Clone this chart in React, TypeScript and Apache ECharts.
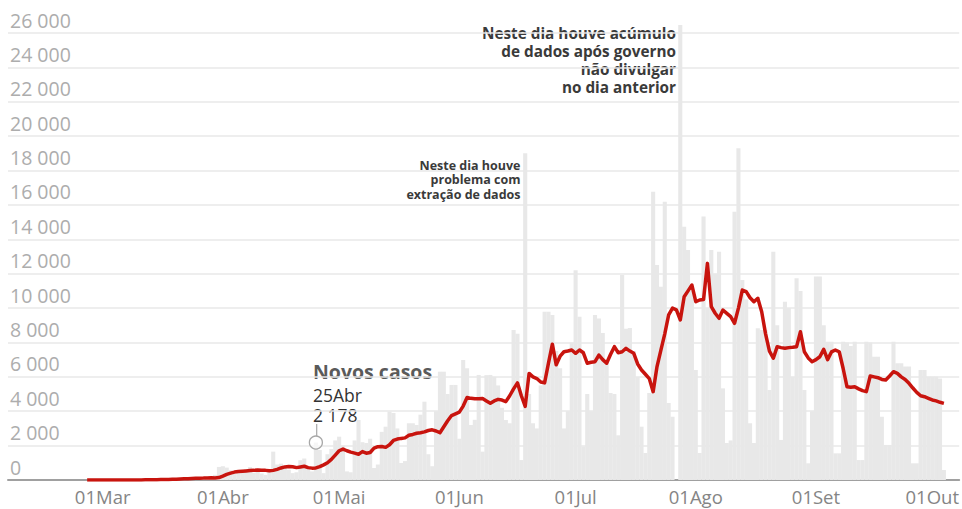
import React, { useEffect, useRef } from "react";
import * as echarts from "echarts";

// Day index 0 = 26 Feb 2020, last = 4 Oct 2020
const startDate = "2020-02-26";

const monthTickIdx = [4, 35, 65, 96, 126, 157, 188, 218];
const monthTickLabels = ["01Mar", "01Abr", "01Mai", "01Jun", "01Jul", "01Ago", "01Set", "01Out"];

// Daily new cases (grey bars)
const newCases = [
  1, 0, 0, 0, 0, 1, 0, 2, 3, 3,
  6, 3, 5, 9, 10, 12, 16, 20, 25, 34,
  40, 45, 50, 62, 55, 70, 86, 95, 105, 110,
  120, 140, 160, 300, 760,
  800, 720, 560, 350, 480,
  540, 620, 750, 420, 520, 380, 300,
  620, 1650, 900, 950, 700, 600, 400,
  450, 1150, 1250, 650, 500, 2178,
  1745, 400, 1500, 1800, 2300, 2520, 2000,
  500, 450, 2300, 3490, 2200, 2150, 2400,
  700, 900, 2800, 3100, 3970, 3900, 3000,
  990, 1100, 3300, 3300, 3200, 3800, 4555,
  1500, 800, 4000, 6300, 6300, 5000, 5530,
  5530, 2400, 6980, 6500, 3200, 3500, 6110,
  1650, 6100, 6110, 6000, 5500, 4200, 3490,
  3300, 8730, 8500, 1160, 19000, 5000, 3300,
  3000, 5500, 9790, 9790, 9600, 7500, 6500,
  3000, 4000, 8000, 12200, 9500, 1950, 5000,
  4000, 9600, 9400, 8550, 7000, 5060, 5000,
  2600, 11920, 8800, 8840, 7500, 6000, 3100,
  1570, 5060, 16770, 12500, 11240, 16190, 4480,
  3680, 0, 26470, 14730, 13380, 11000, 6400,
  1570, 15320, 10000, 13380, 12000, 13280, 5330,
  2150, 2300, 15610, 19290, 11630, 10500, 3300,
  2150, 8820, 8730, 8730, 5235, 13280, 9000,
  2330, 10370, 10000, 6000, 11730, 11000, 5235,
  970, 4000, 11830, 11830, 9000, 8045, 8045,
  1550, 1550, 8045, 8000, 7800, 8045, 1160,
  1160, 8045, 8000, 7170, 7170, 3680, 2040,
  2040, 8045, 6790, 6790, 6600, 6600, 970,
  970, 6400, 6400, 6010, 6010, 6010, 5900,
  580,
];

// Moving average (red line)
const movingAvg = [
  0, 0, 0, 0, 0, 0, 0, 1, 1, 2,
  2, 3, 4, 5, 7, 9, 12, 16, 20, 25,
  30, 36, 42, 50, 58, 66, 75, 85, 95, 105,
  110, 120, 125, 110, 140,
  230, 330, 400, 460, 490,
  510, 530, 550, 560, 580,
  570, 560, 540, 560, 620,
  700, 760, 780, 770, 720,
  760, 800, 720, 690, 700,
  780, 880, 1000, 1200, 1450,
  1700, 1800, 1700, 1620, 1560,
  1500, 1650, 1560, 1600, 1850,
  1940, 1950, 1900, 2050, 2300,
  2380, 2420, 2450, 2600, 2650,
  2720, 2750, 2800, 2880, 2920,
  2850, 2750, 3100, 3450, 3750,
  3850, 3950, 4300, 4800, 4750,
  4720, 4730, 4740, 4600, 4460,
  4600, 4690, 4650, 4560, 4900,
  5300, 5650, 4900, 4280, 6200,
  6000, 5900, 5700, 5650, 6800,
  7900, 6700, 7200, 7460, 7500,
  7560, 7370, 7560, 7400, 6790,
  6850, 6880, 7270, 7000, 6790,
  7300, 7755, 7400, 7460, 7660,
  7500, 7370, 6750, 6400, 6150,
  5900, 5140, 6600, 7560, 8500,
  9600, 10000, 9900, 9310, 10660,
  11000, 11340, 10370, 10470, 10500,
  12600, 10080, 9700, 9405, 9890,
  9695, 9500, 9115, 10000, 11050,
  10955, 10600, 10370, 10570, 9790,
  8500, 7500, 7080, 7755, 7700,
  7660, 7700, 7720, 7755, 8625,
  7460, 7100, 6880, 7000, 7170,
  7600, 7000, 7450, 7560, 7460,
  6500, 5430, 5400, 5430, 5300,
  5200, 5140, 6050, 6000, 5950,
  5850, 5820, 6050, 6300, 6200,
  6000, 5850, 5625, 5350, 5100,
  4900, 4845, 4750, 4655, 4600,
  4520, 4460,
];

const highlightIdx = 59; // 25Abr
const highlightLabel = "25Abr";

const fmtThousands = (v: number) => String(v).replace(/\B(?=(\d{3})+(?!\d))/g, " ");

export default function App() {
  const ref = useRef<HTMLDivElement>(null);
  useEffect(() => {
    document.body.style.margin = "0";
    if (!ref.current) return;
    const chart = echarts.init(ref.current, null, { renderer: "svg" });
    const font = '"Open Sans", sans-serif';
    chart.setOption({
      animation: false,
      grid: { left: 8, right: 0, top: 33, bottom: 29, containLabel: false },
      xAxis: {
        type: "value",
        min: -20.42,
        max: 224.95,
        splitLine: { show: false },
        axisTick: { show: false },
        axisLine: { show: true, onZero: false, lineStyle: { color: "#a0a0a0", width: 2 } },
        axisLabel: {
          customValues: monthTickIdx,
          formatter: (v: number) => {
            const k = monthTickIdx.indexOf(Math.round(v));
            return k >= 0 ? monthTickLabels[k] : "";
          },
          color: "#858585",
          fontSize: 18.5,
          lineHeight: 18,
          fontFamily: font,
          margin: 7.5,
        },
      },
      yAxis: {
        type: "value",
        min: 0,
        max: 26000,
        interval: 2000,
        axisLine: { show: false },
        axisTick: { show: false },
        splitLine: { lineStyle: { color: "#e8e8e8", width: 1.5 } },
        axisLabel: {
          inside: true,
          verticalAlign: "bottom",
          margin: 2,
          padding: [0, 0, 3, 0],
          color: "#adadad",
          fontSize: 19.5,
          fontFamily: font,
          formatter: (v: number) => fmtThousands(v),
        },
      },
      series: [
        {
          type: "bar",
          data: newCases.map((v, i) => [i, v]),
          barWidth: 4.1,
          clip: false,
          itemStyle: { color: "#e8e8e8" },
          silent: true,
          markPoint: {
            silent: true,
            symbol: "circle",
            symbolSize: 13,
            itemStyle: { color: "rgba(255,255,255,0.6)", borderColor: "#a8a8a8", borderWidth: 1.3 },
            label: { show: false },
            data: [{ coord: [highlightIdx, newCases[highlightIdx]] }],
          },
        },
        {
          type: "line",
          data: movingAvg.map((v, i) => [i, v]),
          symbol: "none",
          smooth: false,
          lineStyle: { color: "#c8140e", width: 3.5, join: "round" },
          z: 3,
          silent: true,
        },
      ],
      graphic: [
        { type: "line", shape: { x1: 316.7, y1: 436.5, x2: 316.7, y2: 424 }, style: { stroke: "#a8a8a8", lineWidth: 1.2 } },
        { type: "text", x: 313, y: 371, style: { text: "Novos casos", font: `bold 19.5px ${font}`, fill: "#5a5a5a", align: "left", verticalAlign: "middle" } },
        {
          type: "text",
          x: 313,
          y: 384.5,
          style: {
            text: highlightLabel + "\n" + fmtThousands(newCases[highlightIdx]),
            font: `17.5px ${font}`,
            lineHeight: 20,
            fill: "#333",
            align: "left",
            verticalAlign: "top",
          },
        },
        {
          type: "text",
          x: 676,
          y: 24.5,
          style: {
            text: "Neste dia houve acúmulo\nde dados após governo\nnão divulgar\nno dia anterior",
            font: `bold 15.3px ${font}`,
            lineHeight: 17.8,
            fill: "#3a3a3a",
            align: "right",
            verticalAlign: "top",
          },
        },
        {
          type: "text",
          x: 520.5,
          y: 158.7,
          style: {
            text: "Neste dia houve\nproblema com\nextração de dados",
            font: `bold 12.5px ${font}`,
            lineHeight: 14.2,
            fill: "#3a3a3a",
            align: "right",
            verticalAlign: "top",
          },
        },
      ],
    });
    return () => chart.dispose();
  }, []);
  return <div ref={ref} style={{ width: 962, height: 509 }} data-start={startDate} />;
}
